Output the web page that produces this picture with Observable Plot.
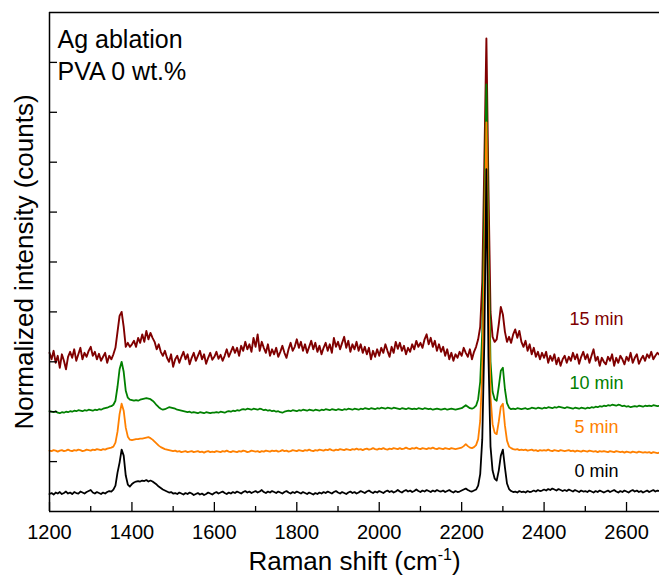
<!DOCTYPE html>
<html><head><meta charset="utf-8">
<script src="https://cdn.jsdelivr.net/npm/d3@7"></script>
<script src="https://cdn.jsdelivr.net/npm/@observablehq/plot@0.6"></script>
<style>body{margin:0;background:#fff}</style>
</head><body><div id="chart"></div>
<script>
// Raman shift sampling grid (cm-1)
const shiftStart = 1200, shiftEnd = 2680, shiftStep = 5;

// 0 min (black)
const min0 = [
0.35,0.37,0.34,0.38,0.36,0.39,0.35,0.37,0.40,0.36,
0.38,0.35,0.39,0.37,0.36,0.40,0.38,0.36,0.39,0.41,
0.43,0.38,0.36,0.39,0.37,0.35,0.38,0.36,0.39,0.41,
0.40,0.44,0.52,0.78,0.98,1.24,1.12,0.72,0.54,0.50,
0.55,0.58,0.60,0.61,0.60,0.62,0.61,0.63,0.60,0.62,
0.60,0.57,0.54,0.50,0.47,0.44,0.42,0.40,0.38,0.39,
0.36,0.37,0.35,0.38,0.36,0.34,0.37,0.35,0.38,0.36,
0.33,0.35,0.37,0.34,0.36,0.33,0.35,0.38,0.36,0.34,
0.37,0.39,0.36,0.38,0.40,0.37,0.35,0.38,0.36,0.39,
0.37,0.40,0.38,0.36,0.39,0.41,0.38,0.40,0.37,0.39,
0.41,0.38,0.40,0.43,0.39,0.37,0.40,0.38,0.41,0.39,
0.37,0.40,0.38,0.36,0.39,0.41,0.38,0.36,0.39,0.37,
0.40,0.38,0.36,0.39,0.37,0.35,0.38,0.36,0.34,0.37,
0.35,0.38,0.36,0.39,0.37,0.40,0.38,0.36,0.39,0.41,
0.38,0.36,0.39,0.37,0.35,0.38,0.40,0.37,0.39,0.36,
0.38,0.41,0.39,0.37,0.40,0.42,0.39,0.37,0.40,0.38,
0.41,0.39,0.37,0.40,0.42,0.39,0.41,0.38,0.40,0.43,
0.40,0.38,0.41,0.43,0.40,0.42,0.39,0.41,0.44,0.41,
0.39,0.42,0.40,0.43,0.41,0.39,0.42,0.40,0.43,0.41,
0.40,0.42,0.39,0.41,0.43,0.40,0.38,0.41,0.39,0.40,
0.42,0.44,0.46,0.43,0.41,0.40,0.42,0.44,0.52,0.75,
1.45,3.40,6.86,3.10,1.30,0.82,0.66,0.62,0.82,1.12,
1.24,0.88,0.56,0.45,0.41,0.39,0.40,0.38,0.41,0.39,
0.40,0.38,0.41,0.39,0.40,0.42,0.40,0.43,0.41,0.42,
0.44,0.42,0.45,0.43,0.46,0.44,0.42,0.45,0.43,0.41,
0.43,0.41,0.44,0.42,0.40,0.43,0.41,0.39,0.42,0.40,
0.41,0.39,0.42,0.40,0.38,0.41,0.39,0.42,0.40,0.38,
0.40,0.42,0.39,0.41,0.43,0.40,0.38,0.41,0.39,0.42,
0.40,0.38,0.41,0.43,0.40,0.42,0.39,0.41,0.38,0.40,
0.42,0.39,0.41,0.43,0.40,0.42,0.41];

// 5 min (orange)
const min5 = [
1.22,1.21,1.23,1.22,1.20,1.22,1.23,1.21,1.22,1.24,
1.22,1.21,1.23,1.22,1.24,1.23,1.21,1.22,1.24,1.23,
1.22,1.24,1.23,1.25,1.24,1.23,1.25,1.24,1.26,1.27,
1.28,1.30,1.38,1.60,1.95,2.16,2.02,1.68,1.50,1.44,
1.43,1.44,1.45,1.45,1.46,1.46,1.47,1.48,1.49,1.47,
1.44,1.40,1.36,1.32,1.29,1.27,1.25,1.24,1.23,1.22,
1.21,1.22,1.20,1.21,1.19,1.20,1.21,1.19,1.20,1.21,
1.19,1.20,1.21,1.19,1.20,1.18,1.20,1.21,1.19,1.20,
1.19,1.21,1.20,1.19,1.21,1.20,1.22,1.20,1.19,1.21,
1.20,1.19,1.21,1.20,1.22,1.21,1.19,1.20,1.22,1.21,
1.20,1.21,1.19,1.21,1.20,1.22,1.21,1.20,1.22,1.21,
1.22,1.20,1.21,1.23,1.21,1.22,1.20,1.21,1.23,1.22,
1.21,1.23,1.22,1.21,1.23,1.22,1.24,1.22,1.21,1.23,
1.22,1.24,1.23,1.22,1.24,1.23,1.25,1.23,1.22,1.24,
1.23,1.25,1.24,1.23,1.25,1.24,1.23,1.25,1.24,1.26,
1.24,1.25,1.23,1.25,1.26,1.24,1.25,1.27,1.25,1.24,
1.26,1.25,1.27,1.25,1.24,1.26,1.25,1.27,1.26,1.25,
1.27,1.25,1.26,1.28,1.26,1.25,1.27,1.26,1.28,1.26,
1.25,1.27,1.26,1.25,1.27,1.26,1.28,1.26,1.25,1.27,
1.26,1.25,1.27,1.26,1.25,1.27,1.26,1.25,1.26,1.27,
1.28,1.31,1.35,1.31,1.28,1.27,1.29,1.33,1.45,1.82,
2.80,5.00,7.80,4.60,2.30,1.75,1.58,1.55,1.80,2.10,
2.16,1.72,1.42,1.30,1.27,1.25,1.24,1.25,1.23,1.24,
1.23,1.24,1.22,1.23,1.24,1.22,1.23,1.21,1.23,1.22,
1.23,1.22,1.24,1.22,1.21,1.23,1.22,1.21,1.23,1.22,
1.21,1.22,1.23,1.21,1.22,1.20,1.22,1.21,1.20,1.22,
1.21,1.20,1.22,1.21,1.20,1.21,1.19,1.21,1.20,1.21,
1.20,1.19,1.21,1.20,1.19,1.21,1.20,1.19,1.20,1.18,
1.20,1.19,1.18,1.20,1.19,1.18,1.20,1.19,1.18,1.19,
1.18,1.19,1.17,1.19,1.18,1.17,1.18];

// 10 min (green)
const min10 = [
2.01,2.00,1.99,2.01,1.98,1.97,1.99,1.98,2.00,1.99,
2.01,2.00,2.02,2.01,2.03,2.02,2.01,2.03,2.02,2.04,
2.03,2.02,2.04,2.03,2.05,2.04,2.06,2.07,2.08,2.10,
2.11,2.14,2.22,2.50,2.85,3.00,2.80,2.42,2.28,2.24,
2.23,2.22,2.23,2.22,2.24,2.25,2.26,2.27,2.26,2.25,
2.22,2.18,2.13,2.09,2.06,2.04,2.05,2.07,2.09,2.08,
2.07,2.06,2.04,2.03,2.02,2.01,2.00,1.99,2.00,1.98,
1.99,1.98,1.97,1.99,1.98,1.97,1.99,1.98,1.97,1.98,
1.98,1.99,1.98,2.00,1.99,1.98,2.00,2.01,2.00,2.02,
2.01,2.03,2.02,2.04,2.05,2.04,2.06,2.05,2.04,2.06,
2.05,2.04,2.06,2.05,2.03,2.04,2.02,2.03,2.01,2.02,
2.00,2.01,1.99,1.98,2.00,2.01,2.02,2.01,2.03,2.02,
2.01,2.03,2.02,2.04,2.03,2.02,2.04,2.03,2.02,2.04,
2.03,2.02,2.04,2.03,2.05,2.04,2.03,2.05,2.04,2.03,
2.05,2.04,2.03,2.05,2.04,2.06,2.05,2.04,2.06,2.05,
2.04,2.06,2.05,2.07,2.06,2.05,2.07,2.06,2.05,2.07,
2.06,2.08,2.07,2.06,2.08,2.07,2.06,2.08,2.07,2.06,
2.05,2.07,2.06,2.05,2.07,2.06,2.05,2.06,2.05,2.07,
2.06,2.05,2.07,2.06,2.05,2.06,2.04,2.05,2.06,2.05,
2.04,2.05,2.06,2.04,2.05,2.06,2.05,2.04,2.05,2.06,
2.07,2.10,2.13,2.10,2.07,2.06,2.08,2.12,2.25,2.60,
3.60,6.00,8.56,5.50,3.00,2.40,2.25,2.22,2.50,2.82,
2.88,2.45,2.17,2.08,2.05,2.06,2.05,2.07,2.06,2.05,
2.06,2.07,2.05,2.06,2.08,2.07,2.06,2.08,2.07,2.06,
2.08,2.07,2.09,2.08,2.07,2.09,2.08,2.10,2.09,2.08,
2.07,2.09,2.08,2.07,2.06,2.08,2.07,2.06,2.08,2.07,
2.06,2.08,2.07,2.09,2.08,2.10,2.09,2.11,2.10,2.12,
2.11,2.13,2.12,2.14,2.13,2.12,2.14,2.13,2.11,2.12,
2.10,2.11,2.09,2.10,2.11,2.10,2.12,2.11,2.10,2.12,
2.11,2.12,2.11,2.13,2.12,2.11,2.12];

// 15 min (dark red)
const min15 = [
3.18,3.05,3.22,2.98,3.12,2.88,3.15,3.02,2.85,3.10,
3.20,3.08,3.25,3.02,3.15,3.28,3.05,3.18,3.10,3.22,
3.30,3.12,3.20,3.05,3.16,3.02,3.10,3.18,2.98,3.12,
3.05,3.15,3.28,3.60,3.92,4.00,3.70,3.30,3.38,3.30,
3.35,3.42,3.30,3.48,3.38,3.55,3.40,3.62,3.45,3.58,
3.48,3.40,3.25,3.35,3.20,3.12,3.22,3.08,3.00,3.15,
2.90,3.05,3.12,2.98,3.10,3.20,3.05,3.15,2.95,3.08,
3.18,3.02,3.12,3.22,3.05,3.15,2.96,3.08,3.18,3.04,
3.10,3.20,3.06,3.14,3.02,3.12,3.25,3.10,3.20,3.30,
3.18,3.28,3.12,3.32,3.22,3.40,3.25,3.35,3.20,3.48,
3.30,3.55,3.22,3.40,3.28,3.18,3.35,3.12,3.25,3.15,
3.28,3.10,3.20,3.32,3.18,3.08,3.25,3.38,3.22,3.30,
3.45,3.28,3.40,3.22,3.35,3.18,3.30,3.42,3.25,3.38,
3.20,3.32,3.15,3.28,3.38,3.22,3.35,3.18,3.48,3.30,
3.40,3.25,3.38,3.50,3.28,3.42,3.20,3.35,3.25,3.40,
3.22,3.35,3.18,3.30,3.15,3.28,3.05,3.22,3.10,3.25,
3.12,3.28,3.18,3.35,3.22,3.10,3.30,3.18,3.40,3.26,
3.38,3.22,3.32,3.15,3.28,3.20,3.35,3.25,3.42,3.30,
3.38,3.28,3.45,3.55,3.35,3.48,3.30,3.42,3.22,3.35,
3.20,3.30,3.12,3.25,3.05,3.18,3.02,3.15,3.08,3.20,
3.12,3.28,3.18,3.10,3.25,3.05,3.20,3.30,3.45,3.70,
4.60,7.00,9.48,6.50,4.00,3.50,3.40,3.45,3.75,4.10,
3.95,3.60,3.40,3.50,3.38,3.55,3.65,3.48,3.62,3.40,
3.30,3.42,3.22,3.35,3.15,3.28,3.10,3.20,3.05,3.18,
3.08,3.20,2.98,3.12,3.02,3.15,2.95,3.08,2.92,3.05,
3.12,2.98,3.10,3.02,3.18,3.05,3.15,2.96,3.10,3.20,
3.05,3.15,2.98,3.12,3.25,3.02,3.10,2.92,3.08,3.00,
2.95,3.10,3.02,3.15,2.92,3.08,2.98,3.12,3.05,2.95,
3.10,3.02,3.18,2.98,3.08,3.15,2.96,3.05,3.12,3.02,
3.15,3.08,3.20,3.05,3.12,3.18,3.14];

const seriesNames = ["15 min", "10 min", "5 min", "0 min"];
const seriesColors = ["#800000", "#008000", "#ff8000", "#000000"];
const labelX = [2527, 2527, 2527, 2527];
const labelY = [3.85, 2.57, 1.68, 0.80];

const xMajorTicks = [1200, 1400, 1600, 1800, 2000, 2200, 2400, 2600];
const xMinorTicks = [1300, 1500, 1700, 1900, 2100, 2300, 2500];
const yTicks = [1, 2, 3, 4, 5, 6, 7, 8, 9];

const annotationLines = ["Ag ablation", "PVA 0 wt.%"];
const xTitleParts = ["Raman shift (cm", "-1", ")"];
const yTitle = "Normalized intensity (counts)";

// build tables
const shift = d3.range(shiftStart, shiftEnd + 1, shiftStep);
const seriesValues = [min15, min10, min5, min0];
const rows = seriesValues.flatMap((vals, k) =>
  vals.map((v, i) => ({shift: shift[i], value: v, series: seriesNames[k]})));
const labels = seriesNames.map((n, k) => ({name: n, x: labelX[k], y: labelY[k], color: seriesColors[k]}));
const xTitle = xTitleParts.join("");

const W = 659, H = 577, mL = 49, mR = 0, mT = 12, mB = 66;
const plotH = H - mT - mB, plotW = W - mL - mR;

const chart = Plot.plot({
  width: W, height: H,
  marginLeft: mL, marginRight: mR, marginTop: mT, marginBottom: mB,
  style: {fontFamily: "'Liberation Sans', Arial, sans-serif", fontSize: "20px", color: "#000", background: "#fff", overflow: "visible"},
  x: {domain: [1200, 2680]},
  y: {domain: [0, 10], axis: null},
  marks: [
    ...seriesNames.map((name, k) =>
      Plot.line(rows.filter(d => d.series === name), {x: "shift", y: "value", stroke: seriesColors[k], strokeWidth: k === 0 ? 1.9 : 1.8})),
    Plot.ruleY([0, 10], {stroke: "#000", strokeWidth: 1.5}),
    Plot.ruleX([1200], {stroke: "#000", strokeWidth: 1.5}),
    Plot.ruleX(xMajorTicks, {insetTop: plotH - 9, stroke: "#000", strokeWidth: 1.3}),
    Plot.ruleX(xMinorTicks, {insetTop: plotH - 5, stroke: "#000", strokeWidth: 1.3}),
    Plot.ruleY(yTicks, {insetRight: plotW - 8, stroke: "#000", strokeWidth: 1.3}),
    Plot.axisX(xMajorTicks, {tickSize: 0, tickPadding: 13, tickFormat: d => String(d), label: null, fontSize: 20, fill: "#000"}),
    Plot.text(labels, {x: "x", y: "y", text: "name", fill: "color", fontSize: 18, textAnchor: "middle", lineAnchor: "middle"}),
    Plot.text([annotationLines.join("\n")], {frameAnchor: "top-left", dx: 8, dy: 13, lineAnchor: "top", textAnchor: "start", fontSize: 25, lineHeight: 1.28, fill: "#000"}),
    Plot.text([xTitle], {frameAnchor: "bottom", dy: 40.5, lineAnchor: "top", textAnchor: "middle", fontSize: 26, fill: "#000"}),
    Plot.text([yTitle], {frameAnchor: "left", rotate: -90, dx: -25, lineAnchor: "middle", textAnchor: "middle", fontSize: 26, fill: "#000"})
  ]
});

// superscript in x title
chart.querySelectorAll("text").forEach(t => {
  if (t.textContent === xTitle) {
    t.textContent = "";
    const ns = "http://www.w3.org/2000/svg";
    const a = document.createElementNS(ns, "tspan"); a.textContent = xTitleParts[0];
    const b = document.createElementNS(ns, "tspan"); b.textContent = xTitleParts[1];
    b.setAttribute("font-size", "16"); b.setAttribute("dy", "-10");
    const c = document.createElementNS(ns, "tspan"); c.textContent = xTitleParts[2];
    c.setAttribute("dy", "10");
    t.append(a, b, c);
  }
});

document.getElementById("chart").append(chart);
</script>
</body></html>
